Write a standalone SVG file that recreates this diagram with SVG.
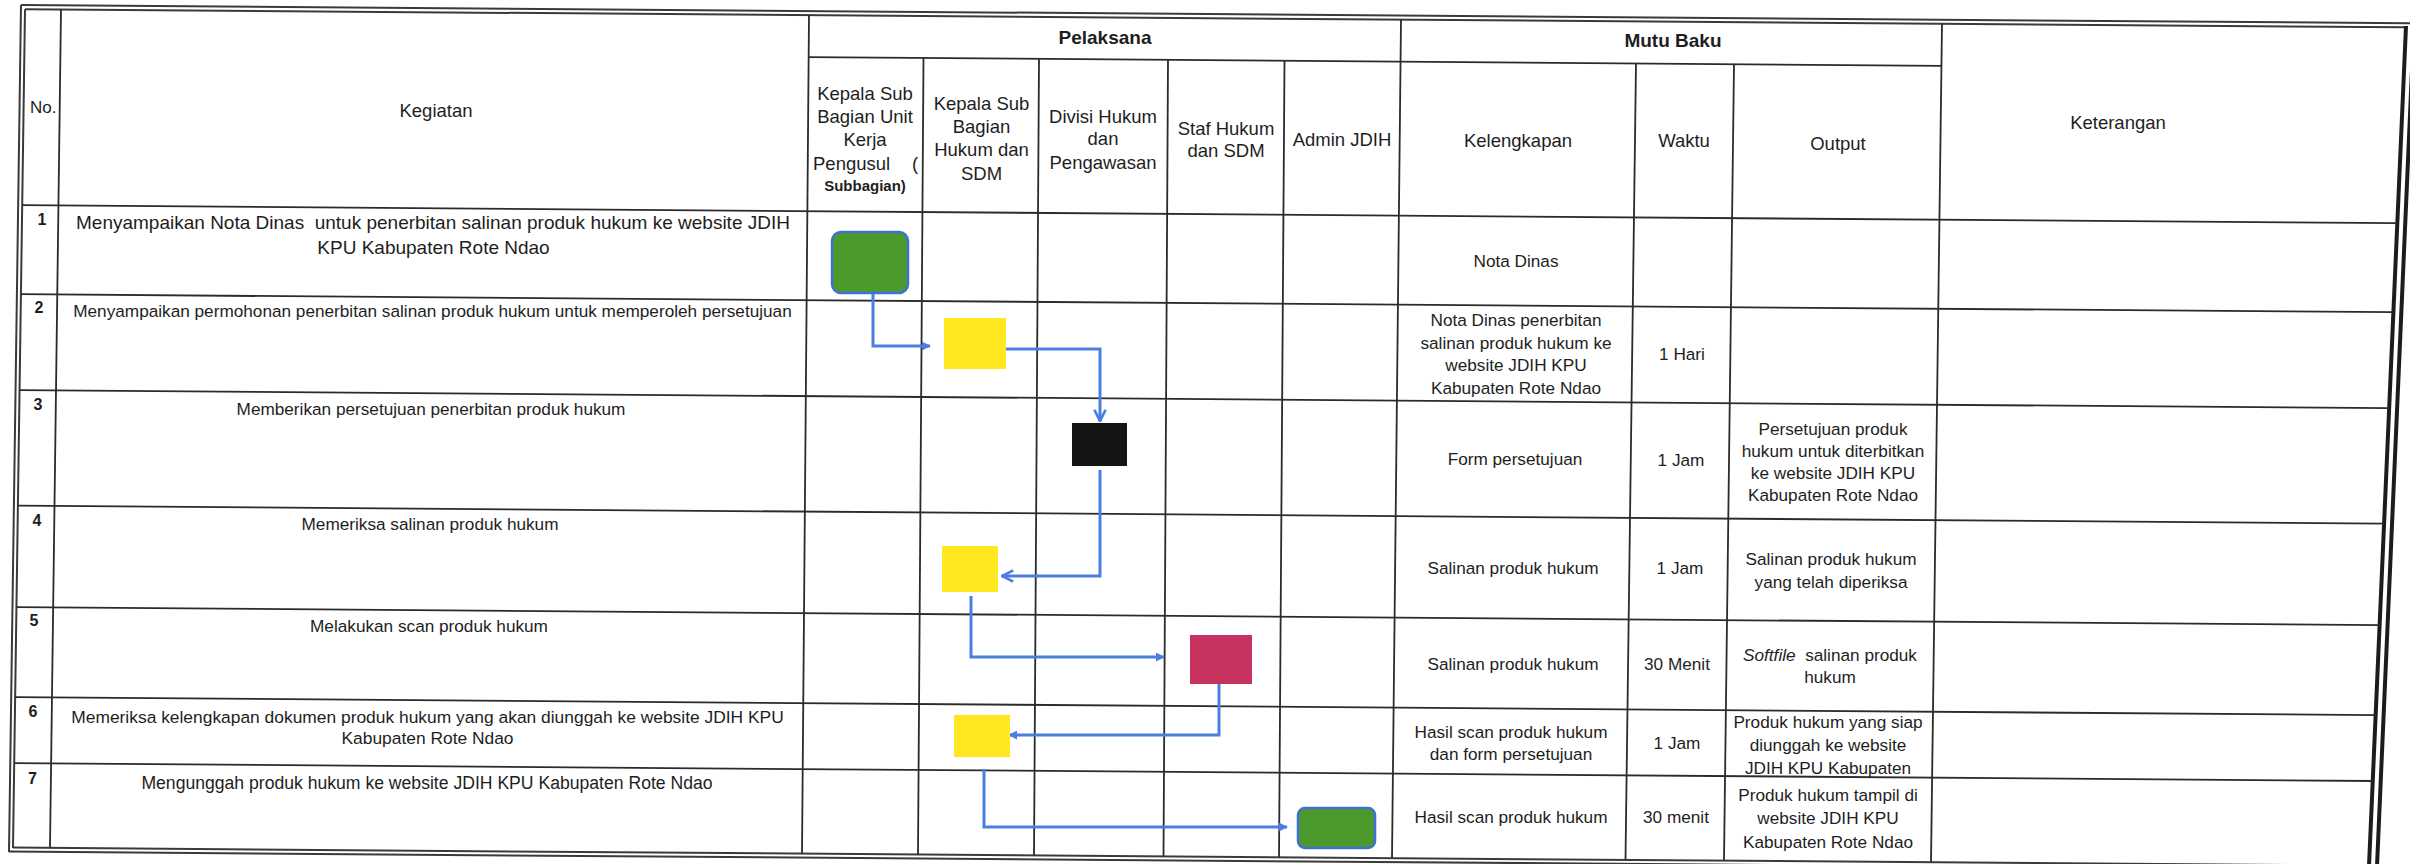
<svg xmlns="http://www.w3.org/2000/svg" width="2410" height="864" viewBox="0 0 2410 864">
<defs>
<style>
.g{stroke:#2b2b2b;stroke-width:1.8;fill:none}
.b{stroke:#3a3a3a;stroke-width:2;fill:none}
.rb{stroke:#1c1c1c;stroke-width:4;fill:none}
text{font-family:"Liberation Sans",Arial,sans-serif;fill:#1e1e1e}
.h{font-size:18.5px;text-anchor:middle}
.hb{font-size:19px;font-weight:bold;text-anchor:middle}
.n{font-size:16px;font-weight:bold;text-anchor:middle}
.t{font-size:17.2px;text-anchor:middle}
.c{stroke:#4a7ee0;stroke-width:3;fill:none}
.yel{fill:#ffe81f}
.grn{fill:#4c9a2c;stroke:#3f70d6;stroke-width:2.5}
</style>
<marker id="tri" viewBox="0 0 10 10" refX="9" refY="5" markerWidth="3" markerHeight="3" orient="auto"><path d="M0,0 L10,5 L0,10 z" fill="#4a7ee0"/></marker>
<marker id="vee" viewBox="0 0 12 12" refX="11" refY="6" markerWidth="4.5" markerHeight="4.5" orient="auto"><path d="M1,1 L11,6 L1,11" fill="none" stroke="#4a7ee0" stroke-width="2.4"/></marker>
</defs>
<rect width="2410" height="864" fill="#ffffff"/>

<g id="table">
<line class="b" x1="21" y1="5" x2="2412" y2="23.3"/>
<line class="b" x1="25" y1="9.2" x2="2406" y2="27.3"/>
<line class="b" x1="21" y1="5" x2="9" y2="852"/>
<line class="b" x1="25" y1="9.2" x2="13" y2="848"/>
<line class="b" x1="9" y1="851.6" x2="2380" y2="869.6"/>
<line class="b" x1="13" y1="847.6" x2="2372" y2="865.6"/>
<line class="rb" x1="2406" y1="26" x2="2369" y2="866"/>
<line class="rb" x1="2414" y1="24" x2="2377" y2="866"/>
<line class="g" x1="808" y1="57.1" x2="1942" y2="65.8"/>
<line class="g" x1="22" y1="205.2" x2="2397" y2="223.2"/>
<line class="g" x1="21" y1="294.2" x2="2393" y2="312.2"/>
<line class="g" x1="19.4" y1="390.1" x2="2389" y2="408.2"/>
<line class="g" x1="17.8" y1="505.6" x2="2384" y2="523.6"/>
<line class="g" x1="16.3" y1="607.1" x2="2380" y2="625.1"/>
<line class="g" x1="15" y1="697.1" x2="2376" y2="715.1"/>
<line class="g" x1="14.1" y1="763.1" x2="2373" y2="781"/>
<line class="g" x1="61" y1="9.5" x2="50" y2="848"/>
<line class="g" x1="809" y1="15.3" x2="802" y2="853.6"/>
<line class="g" x1="923.5" y1="58" x2="918" y2="854.5"/>
<line class="g" x1="1039" y1="58.9" x2="1034" y2="855.4"/>
<line class="g" x1="1168" y1="59.9" x2="1163.5" y2="856.3"/>
<line class="g" x1="1284.5" y1="60.8" x2="1279" y2="857.2"/>
<line class="g" x1="1401" y1="19.6" x2="1392" y2="858.1"/>
<line class="g" x1="1636" y1="63.4" x2="1625.5" y2="859.9"/>
<line class="g" x1="1734" y1="64.2" x2="1724" y2="860.6"/>
<line class="g" x1="1942" y1="23.8" x2="1931" y2="862.2"/>
</g>

<g id="header">
<text x="30" y="113" style="font-size:17px">No.</text>
<text class="h" x="436" y="117">Kegiatan</text>
<text class="hb" x="1105" y="44">Pelaksana</text>
<text class="hb" x="1673" y="47">Mutu Baku</text>
<text class="h" x="865" y="100">Kepala Sub</text>
<text class="h" x="865" y="123">Bagian Unit</text>
<text class="h" x="865" y="146">Kerja</text>
<text x="813" y="170" style="font-size:18.5px">Pengusul</text>
<text x="912" y="170" style="font-size:18.5px">(</text>
<text x="865" y="191" style="font-size:15px;font-weight:bold;text-anchor:middle">Subbagian)</text>
<text class="h" x="981.5" y="110">Kepala Sub</text>
<text class="h" x="981.5" y="133">Bagian</text>
<text class="h" x="981.5" y="156">Hukum dan</text>
<text class="h" x="981.5" y="180">SDM</text>
<text class="h" x="1103" y="123">Divisi Hukum</text>
<text class="h" x="1103" y="145">dan</text>
<text class="h" x="1103" y="169">Pengawasan</text>
<text class="h" x="1226" y="135">Staf Hukum</text>
<text class="h" x="1226" y="157">dan SDM</text>
<text class="h" x="1342" y="146">Admin JDIH</text>
<text class="h" x="1518" y="147">Kelengkapan</text>
<text class="h" x="1684" y="147">Waktu</text>
<text class="h" x="1838" y="150">Output</text>
<text class="h" x="2118" y="129">Keterangan</text>
</g>

<g id="rows">
<text class="n" x="42" y="225">1</text>
<text class="n" x="39" y="313">2</text>
<text class="n" x="38" y="410">3</text>
<text class="n" x="37" y="526">4</text>
<text class="n" x="34" y="626">5</text>
<text class="n" x="33" y="717">6</text>
<text class="n" x="32.5" y="784">7</text>

<text class="t" x="433" y="229" style="font-size:19px" xml:space="preserve">Menyampaikan Nota Dinas  untuk penerbitan salinan produk hukum ke website JDIH</text>
<text class="t" x="433.5" y="254" style="font-size:19px">KPU Kabupaten Rote Ndao</text>
<text class="t" x="432.5" y="317">Menyampaikan permohonan penerbitan salinan produk hukum untuk memperoleh persetujuan</text>
<text class="t" x="431" y="415">Memberikan persetujuan penerbitan produk hukum</text>
<text class="t" x="430" y="530">Memeriksa salinan produk hukum</text>
<text class="t" x="429" y="632">Melakukan scan produk hukum</text>
<text class="t" x="427.5" y="723" style="font-size:17.4px">Memeriksa kelengkapan dokumen produk hukum yang akan diunggah ke website JDIH KPU</text>
<text class="t" x="427.5" y="744" style="font-size:17.4px">Kabupaten Rote Ndao</text>
<text class="t" x="427" y="789" style="font-size:17.6px">Mengunggah produk hukum ke website JDIH KPU Kabupaten Rote Ndao</text>

<text class="t" x="1516" y="267">Nota Dinas</text>
<text class="t" x="1516" y="326">Nota Dinas penerbitan</text>
<text class="t" x="1516" y="349">salinan produk hukum ke</text>
<text class="t" x="1516" y="371">website JDIH KPU</text>
<text class="t" x="1516" y="394">Kabupaten Rote Ndao</text>
<text class="t" x="1682" y="360">1 Hari</text>
<text class="t" x="1515" y="465">Form persetujuan</text>
<text class="t" x="1681" y="466">1 Jam</text>
<text class="t" x="1833" y="435">Persetujuan produk</text>
<text class="t" x="1833" y="457">hukum untuk diterbitkan</text>
<text class="t" x="1833" y="479">ke website JDIH KPU</text>
<text class="t" x="1833" y="501">Kabupaten Rote Ndao</text>
<text class="t" x="1513" y="574">Salinan produk hukum</text>
<text class="t" x="1680" y="574">1 Jam</text>
<text class="t" x="1831" y="565">Salinan produk hukum</text>
<text class="t" x="1831" y="588">yang telah diperiksa</text>
<text class="t" x="1513" y="670">Salinan produk hukum</text>
<text class="t" x="1677" y="670">30 Menit</text>
<text class="t" x="1830" y="661" xml:space="preserve"><tspan font-style="italic">Softfile</tspan>  salinan produk</text>
<text class="t" x="1830" y="683">hukum</text>
<text class="t" x="1511" y="738">Hasil scan produk hukum</text>
<text class="t" x="1511" y="760">dan form persetujuan</text>
<text class="t" x="1677" y="749">1 Jam</text>
<text class="t" x="1828" y="728">Produk hukum yang siap</text>
<text class="t" x="1828" y="751">diunggah ke website</text>
<text class="t" x="1828" y="774">JDIH KPU Kabupaten</text>
<text class="t" x="1511" y="823">Hasil scan produk hukum</text>
<text class="t" x="1676" y="823">30 menit</text>
<text class="t" x="1828" y="801">Produk hukum tampil di</text>
<text class="t" x="1828" y="824">website JDIH KPU</text>
<text class="t" x="1828" y="848">Kabupaten Rote Ndao</text>
</g>

<g id="connectors">
<path class="c" d="M873,293 V346 H930" marker-end="url(#tri)"/>
<path class="c" d="M1006,349 H1100 V421" marker-end="url(#vee)"/>
<path class="c" d="M1100,470 V576 H1002" marker-end="url(#vee)"/>
<path class="c" d="M971,596 V657 H1164" marker-end="url(#tri)"/>
<path class="c" d="M1219,684 V735 H1009" marker-end="url(#tri)"/>
<path class="c" d="M984,769 V827 H1287" marker-end="url(#tri)"/>
</g>

<g id="node1"><rect class="grn" x="832" y="232" width="76" height="61" rx="9"/></g>
<g id="node2"><rect class="yel" x="944" y="318" width="62" height="51"/></g>
<g id="node3"><rect x="1072" y="423" width="55" height="43" fill="#151515"/></g>
<g id="node4"><rect class="yel" x="942" y="546" width="56" height="46"/></g>
<g id="node5"><rect x="1190" y="635" width="62" height="49" fill="#c8325f"/></g>
<g id="node6"><rect class="yel" x="954" y="715" width="56" height="42"/></g>
<g id="node7"><rect class="grn" x="1298" y="808" width="77" height="40" rx="7"/></g>
</svg>
